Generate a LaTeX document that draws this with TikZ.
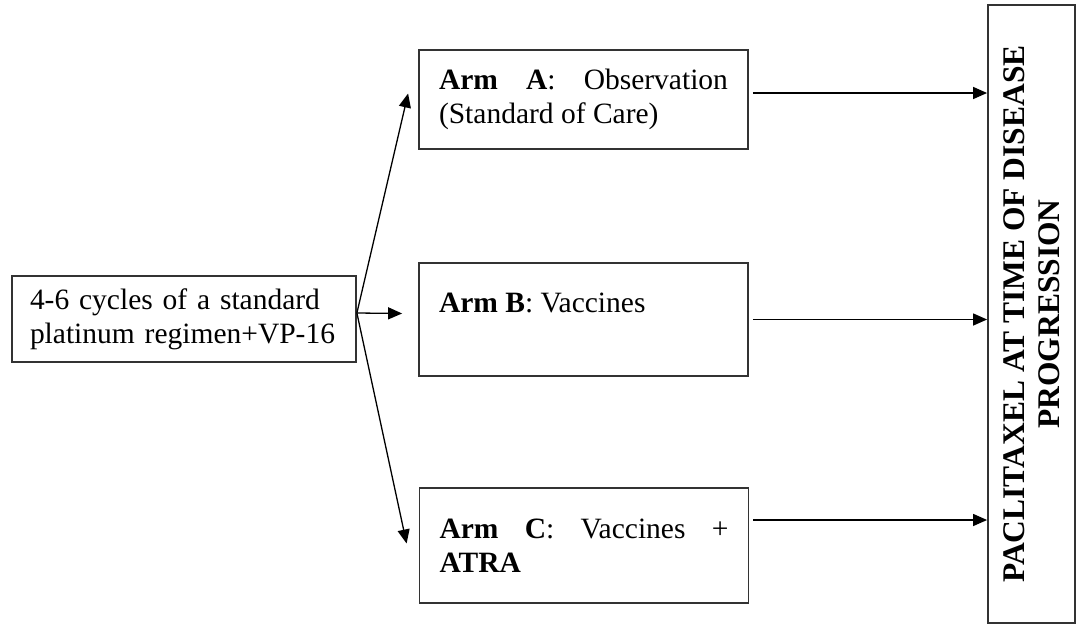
\documentclass[tikz,border=0pt]{standalone}
\usepackage{fontspec}
\setmainfont{Liberation Serif}
\usetikzlibrary{arrows.meta}

\begin{document}
\begin{tikzpicture}[x=1pt, y=-1pt, line width=1.3pt,
  box/.style={draw=black!80, line width=1.8pt, inner xsep=20pt, inner ysep=0pt,
    font=\fontsize{29.5}{34}\selectfont},
  armbox/.style={box, text width=289pt, align=justify, minimum width=329pt},
  arr/.style={-{Triangle[length=14pt,width=12pt]}}]

% Frame of the picture
\useasboundingbox (0,0) rectangle (1082,629);

% Start of treatment
\node[box, inner xsep=18pt, text width=308pt, align=left, minimum width=344pt, minimum height=86pt]
  (chemo) at (184,319) {4-6 cycles of a standard\\platinum regimen+VP-16};

% Three arms
\node[armbox, minimum height=99pt] (armA) at (583.5,99.5)
  {\textbf{Arm A}: Observation\linebreak (Standard of Care)};
\node[armbox, minimum height=113pt] (armB) at (583.5,319.5)
  {\textbf{Arm B}: Vaccines\\\mbox{}};
\node[armbox, minimum height=115pt] (armC) at (584,545.5)
  {\textbf{Arm C}: Vaccines +\linebreak \textbf{ATRA}};

% Final step
\node[box, rotate=90, inner xsep=0pt, minimum width=618pt, minimum height=87pt, align=center,
  font=\fontsize{31.5}{35}\selectfont\bfseries]
  (prog) at (1031.5,314) {PACLITAXEL AT TIME OF DISEASE\\PROGRESSION};

% Randomisation arrows
\coordinate (fork) at ([yshift=6pt]chemo.east);
\coordinate (tipA) at ([shift={(-10pt,6pt)}]armA.west);
\coordinate (tipB) at ([shift={(-16pt,6pt)}]armB.west);
\coordinate (tipC) at ([shift={(-12pt,2pt)}]armC.west);
\draw[arr] (fork) -- (tipA);
\draw[arr] (fork) -- (tipB);
\draw[arr] (fork) -- (tipC);

% Arms to progression
\foreach \arm/\lift in {armA/6.5, armB/0, armC/25.5} {
  \coordinate (\arm out) at ([yshift=\lift pt]\arm.east);
  \draw[arr, shorten <=4pt] (\arm out) -- (\arm out -| prog.north);
}

\end{tikzpicture}
\end{document}
